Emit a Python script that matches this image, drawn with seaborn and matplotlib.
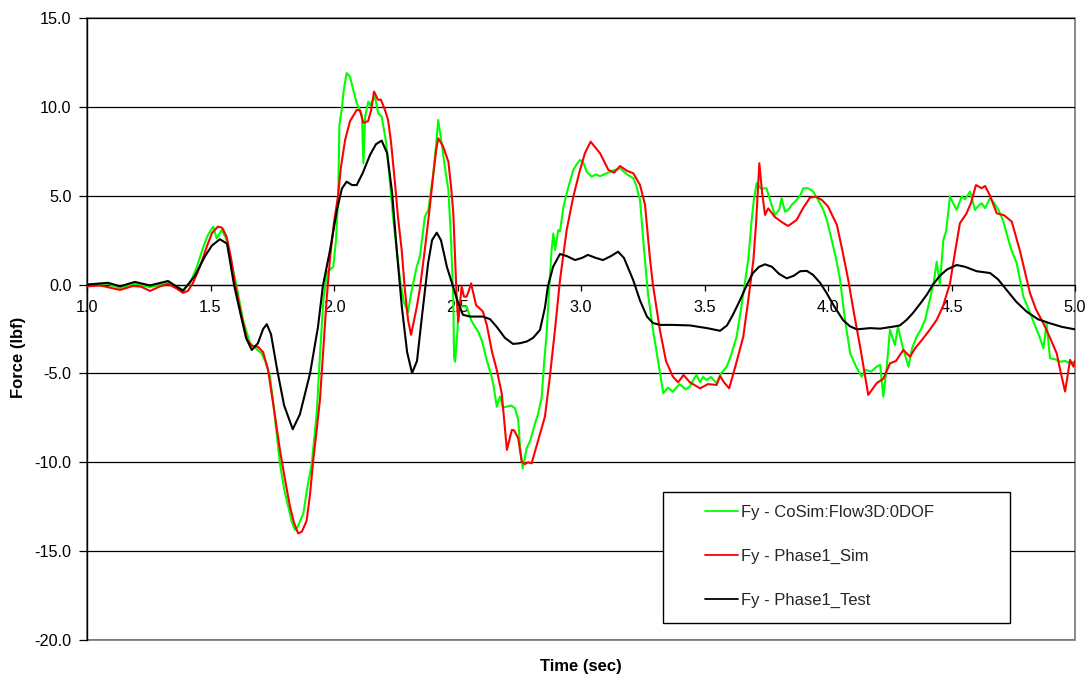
import numpy as np
import pandas as pd
import matplotlib
matplotlib.use("Agg")
import matplotlib.pyplot as plt
from matplotlib.patches import Rectangle
import seaborn as sns

# ---- Fy force histories (time in s, force in lbf) ----
series_names = ["Fy - CoSim:Flow3D:0DOF", "Fy - Phase1_Sim", "Fy - Phase1_Test"]
series_colors = ["#00FF00", "#FF0000", "#000000"]

cosim_t = [1.0, 1.085, 1.134, 1.194, 1.255, 1.328, 1.389, 1.417, 1.445, 1.471, 1.49, 1.511, 1.525,
           1.545, 1.563, 1.579, 1.606, 1.632, 1.66, 1.684, 1.707, 1.724, 1.741, 1.761, 1.781, 1.798,
           1.815, 1.83, 1.842, 1.854, 1.876, 1.891, 1.91, 1.93, 1.943, 1.957, 1.972, 1.997, 2.008,
           2.017, 2.022, 2.031, 2.04, 2.051, 2.065, 2.077, 2.092, 2.105, 2.113, 2.119, 2.126, 2.139,
           2.146, 2.166, 2.179, 2.193, 2.211, 2.227, 2.239, 2.254, 2.267, 2.283, 2.3, 2.312, 2.324,
           2.335, 2.348, 2.368, 2.382, 2.402, 2.413, 2.422, 2.436, 2.449, 2.463, 2.474, 2.483, 2.486,
           2.49, 2.498, 2.503, 2.51, 2.537, 2.555, 2.567, 2.584, 2.6, 2.618, 2.638, 2.647, 2.659,
           2.672, 2.684, 2.7, 2.717, 2.733, 2.746, 2.753, 2.764, 2.78, 2.794, 2.814, 2.826, 2.841,
           2.85, 2.861, 2.87, 2.881, 2.888, 2.895, 2.908, 2.915, 2.929, 2.947, 2.969, 2.984, 2.996,
           3.008, 3.023, 3.043, 3.061, 3.077, 3.104, 3.126, 3.158, 3.186, 3.212, 3.223, 3.239, 3.255,
           3.271, 3.291, 3.312, 3.333, 3.352, 3.372, 3.399, 3.425, 3.441, 3.457, 3.468, 3.482, 3.494,
           3.509, 3.526, 3.549, 3.567, 3.59, 3.607, 3.63, 3.652, 3.677, 3.691, 3.7, 3.711, 3.729,
           3.751, 3.769, 3.785, 3.802, 3.812, 3.826, 3.839, 3.854, 3.873, 3.887, 3.9, 3.92, 3.94,
           3.959, 3.981, 3.996, 4.015, 4.032, 4.049, 4.069, 4.09, 4.113, 4.136, 4.154, 4.174, 4.197,
           4.211, 4.224, 4.238, 4.251, 4.271, 4.283, 4.302, 4.326, 4.34, 4.359, 4.377, 4.393, 4.413,
           4.429, 4.44, 4.453, 4.467, 4.478, 4.494, 4.506, 4.521, 4.541, 4.555, 4.575, 4.595, 4.607,
           4.622, 4.636, 4.656, 4.672, 4.69, 4.709, 4.723, 4.741, 4.764, 4.777, 4.791, 4.818, 4.845,
           4.858, 4.872, 4.885, 4.891, 4.899, 4.919, 4.939, 4.96, 4.98, 5.0]
cosim_f = [0.0, 0.05, -0.2, 0.05, -0.15, 0.1, -0.3, 0.07, 1.0, 2.13, 2.8, 3.26, 2.6,
           3.07, 2.6, 1.57, -0.12, -2.0, -3.3, -3.6, -3.87, -4.4, -5.18, -7.5, -10.06, -11.5,
           -12.5, -13.4, -13.8, -13.6, -12.87, -11.5, -10.06, -7.24, -4.0, -0.87, 0.7, 1.0, 2.5,
           5.0, 9.0, 9.83, 11.0, 11.9, 11.7, 11.0, 10.2, 9.83, 9.5, 6.83, 9.45, 10.3,
           10.1, 10.57, 9.64, 9.45, 8.0, 5.7, 3.8, 1.95, 0.3, -1.0, -1.55, -0.5, 0.3,
           1.0, 1.6, 3.82, 4.2, 6.26, 7.8, 9.26, 7.95, 6.6, 5.32, 2.5, -0.87, -4.06,
           -4.34, -3.0, -1.8, -1.24, -1.24, -1.99, -2.3, -2.65, -3.2, -4.24, -5.18, -5.8, -6.87,
           -6.3, -6.9, -6.87, -6.8, -6.96, -7.62, -9.12, -10.34, -9.21, -8.8, -7.8, -7.3, -6.31,
           -4.5, -2.74, -0.5, 1.95, 2.88, 1.95, 3.07, 3.0, 4.38, 5.4, 6.45, 6.8, 7.01,
           6.9, 6.36, 6.07, 6.2, 6.1, 6.26, 6.4, 6.54, 6.2, 5.98, 5.6, 4.76, 2.0,
           -0.5, -2.5, -4.3, -6.12, -5.8, -6.03, -5.6, -5.9, -5.74, -5.3, -5.09, -5.5, -5.2,
           -5.37, -5.2, -5.55, -5.0, -4.62, -4.0, -2.93, -1.0, 1.38, 3.64, 4.8, 5.7, 5.4,
           5.42, 4.6, 3.92, 4.2, 4.86, 4.1, 4.2, 4.5, 4.76, 5.0, 5.42, 5.42, 5.23,
           4.8, 4.2, 3.6, 2.51, 1.5, 0.26, -2.0, -3.87, -4.6, -5.18, -4.8, -4.9, -4.62,
           -4.52, -6.31, -4.62, -2.55, -3.4, -2.37, -3.5, -4.62, -3.6, -2.93, -2.5, -1.99, -0.8,
           0.2, 1.29, 0.0, 2.51, 3.0, 4.95, 4.6, 4.2, 4.95, 4.8, 5.23, 4.2, 4.4,
           4.58, 4.3, 4.86, 4.6, 4.2, 3.6, 2.88, 2.0, 1.2, 0.3, -0.68, -1.6, -2.55,
           -3.0, -3.59, -2.18, -3.0, -4.15, -4.2, -4.34, -4.3, -4.43, -4.34]

sim_t = [1.0, 1.053, 1.085, 1.134, 1.186, 1.219, 1.255, 1.296, 1.328, 1.36, 1.389, 1.409, 1.429,
         1.457, 1.485, 1.506, 1.53, 1.547, 1.565, 1.583, 1.599, 1.623, 1.648, 1.668, 1.692, 1.713,
         1.733, 1.757, 1.781, 1.802, 1.822, 1.838, 1.855, 1.87, 1.889, 1.903, 1.915, 1.929, 1.943,
         1.957, 1.97, 1.984, 2.0, 2.016, 2.028, 2.045, 2.065, 2.092, 2.105, 2.119, 2.138, 2.15,
         2.162, 2.178, 2.19, 2.206, 2.219, 2.231, 2.247, 2.259, 2.274, 2.287, 2.3, 2.312, 2.324,
         2.336, 2.348, 2.368, 2.385, 2.401, 2.413, 2.422, 2.441, 2.463, 2.474, 2.483, 2.49, 2.497,
         2.503, 2.517, 2.526, 2.537, 2.547, 2.555, 2.575, 2.603, 2.619, 2.64, 2.659, 2.679, 2.7,
         2.72, 2.729, 2.746, 2.76, 2.773, 2.785, 2.8, 2.826, 2.854, 2.874, 2.895, 2.915, 2.942,
         2.968, 2.996, 3.016, 3.039, 3.077, 3.111, 3.134, 3.158, 3.186, 3.212, 3.239, 3.259, 3.279,
         3.291, 3.32, 3.344, 3.372, 3.393, 3.415, 3.441, 3.482, 3.514, 3.549, 3.563, 3.579, 3.6,
         3.627, 3.657, 3.676, 3.698, 3.709, 3.722, 3.733, 3.745, 3.758, 3.785, 3.82, 3.839, 3.873,
         3.899, 3.927, 3.951, 3.975, 4.0, 4.036, 4.057, 4.082, 4.105, 4.13, 4.146, 4.163, 4.197,
         4.224, 4.251, 4.275, 4.305, 4.332, 4.352, 4.38, 4.409, 4.44, 4.466, 4.494, 4.514, 4.534,
         4.561, 4.579, 4.599, 4.622, 4.636, 4.656, 4.683, 4.713, 4.744, 4.777, 4.818, 4.842, 4.872,
         4.899, 4.926, 4.943, 4.96, 4.98, 4.994, 5.0]
sim_f = [-0.1, -0.05, -0.15, -0.3, -0.08, -0.12, -0.36, -0.1, 0.03, -0.2, -0.47, -0.35, 0.09,
         1.0, 2.13, 2.9, 3.26, 3.2, 2.7, 1.5, 0.09, -1.6, -3.1, -3.45, -3.5, -3.8,
         -4.8, -7.0, -9.3, -11.0, -12.5, -13.4, -14.0, -13.9, -13.3, -11.8, -10.0, -8.3, -6.5,
         -3.6, -0.87, 1.5, 3.5, 4.95, 6.6, 8.14, 9.2, 9.83, 9.8, 9.1, 9.2, 9.8,
         10.86, 10.4, 10.4, 9.83, 9.26, 8.0, 5.7, 3.8, 1.95, -0.3, -2.0, -2.83, -2.0,
         -1.2, -0.2, 2.0, 4.0, 6.07, 7.5, 8.23, 7.8, 6.92, 5.5, 4.03, 1.5, -0.87,
         -2.09, -0.1, -0.68, -0.68, -0.3, 0.07, -1.15, -1.52, -2.3, -3.8, -4.8, -6.12, -9.3,
         -8.18, -8.2, -8.65, -9.97, -10.1, -10.0, -10.06, -8.8, -7.43, -5.18, -2.5, 0.26, 3.07,
         4.9, 6.45, 7.4, 8.04, 7.39, 6.45, 6.3, 6.67, 6.4, 6.26, 5.6, 4.5, 1.5,
         0.0, -2.6, -4.3, -5.18, -5.5, -5.09, -5.5, -5.84, -5.6, -5.65, -5.14, -5.5, -5.84,
         -4.5, -2.93, -1.0, 1.38, 3.5, 6.83, 5.2, 3.92, 4.29, 3.8, 3.45, 3.3, 3.64,
         4.3, 4.89, 4.95, 4.76, 4.4, 3.35, 2.0, 0.26, -1.6, -3.49, -4.8, -6.21, -5.55,
         -5.3, -4.43, -4.3, -3.68, -4.06, -3.6, -3.12, -2.6, -1.99, -1.2, 0.07, 1.8, 3.45,
         4.01, 4.6, 5.6, 5.42, 5.55, 5.0, 4.01, 3.9, 3.54, 1.9, -0.49, -1.4, -2.18,
         -3.0, -3.87, -5.0, -6.02, -4.24, -4.62, -4.28]

test_t = [1.0, 1.085, 1.134, 1.194, 1.255, 1.328, 1.389, 1.437, 1.478, 1.506, 1.538, 1.567, 1.595,
          1.619, 1.644, 1.667, 1.692, 1.713, 1.728, 1.745, 1.77, 1.798, 1.833, 1.862, 1.903, 1.935,
          1.955, 1.984, 2.012, 2.032, 2.051, 2.073, 2.092, 2.117, 2.146, 2.17, 2.193, 2.215, 2.235,
          2.254, 2.275, 2.296, 2.316, 2.336, 2.356, 2.381, 2.397, 2.416, 2.433, 2.457, 2.482, 2.502,
          2.522, 2.551, 2.603, 2.632, 2.66, 2.692, 2.725, 2.753, 2.781, 2.806, 2.834, 2.854, 2.866,
          2.887, 2.915, 2.943, 2.976, 3.004, 3.028, 3.06, 3.089, 3.121, 3.15, 3.174, 3.211, 3.239,
          3.267, 3.291, 3.32, 3.372, 3.441, 3.51, 3.563, 3.591, 3.615, 3.644, 3.672, 3.696, 3.721,
          3.745, 3.773, 3.802, 3.833, 3.862, 3.887, 3.914, 3.939, 3.968, 3.995, 4.024, 4.061, 4.089,
          4.117, 4.17, 4.211, 4.263, 4.291, 4.318, 4.344, 4.372, 4.401, 4.425, 4.453, 4.482, 4.521,
          4.555, 4.602, 4.656, 4.688, 4.723, 4.761, 4.804, 4.85, 4.899, 4.947, 5.0]
test_f = [0.0, 0.1, -0.1, 0.15, -0.05, 0.2, -0.35, 0.5, 1.6, 2.2, 2.55, 2.3, 0.0,
          -1.5, -3.0, -3.68, -3.3, -2.5, -2.23, -2.8, -4.8, -6.8, -8.14, -7.3, -5.0, -2.4,
          -0.08, 1.94, 4.2, 5.4, 5.79, 5.6, 5.6, 6.3, 7.3, 7.9, 8.1, 7.4, 5.2,
          1.95, -1.3, -3.8, -4.98, -4.3, -1.8, 1.2, 2.5, 2.92, 2.5, 1.0, -0.1, -1.0,
          -1.7, -1.8, -1.8, -1.95, -2.4, -3.0, -3.34, -3.3, -3.2, -3.0, -2.55, -1.3, -0.1,
          1.0, 1.72, 1.6, 1.38, 1.5, 1.67, 1.5, 1.38, 1.6, 1.85, 1.5, 0.26, -0.9,
          -1.8, -2.16, -2.27, -2.27, -2.3, -2.45, -2.6, -2.3, -1.7, -0.87, 0.0, 0.65, 1.0,
          1.14, 1.0, 0.6, 0.35, 0.5, 0.75, 0.77, 0.55, 0.1, -0.49, -1.2, -2.0, -2.35,
          -2.52, -2.45, -2.48, -2.37, -2.3, -1.99, -1.6, -1.1, -0.55, 0.0, 0.5, 0.85, 1.1,
          1.0, 0.75, 0.65, 0.3, -0.3, -0.95, -1.52, -1.95, -2.18, -2.38, -2.52]

y_ticks = [15.0, 10.0, 5.0, 0.0, -5.0, -10.0, -15.0, -20.0]
x_ticks = [1.0, 1.5, 2.0, 2.5, 3.0, 3.5, 4.0, 4.5, 5.0]

df = pd.concat([
    pd.DataFrame({"Time": cosim_t, "Force": cosim_f, "Series": series_names[0]}),
    pd.DataFrame({"Time": sim_t, "Force": sim_f, "Series": series_names[1]}),
    pd.DataFrame({"Time": test_t, "Force": test_f, "Series": series_names[2]}),
], ignore_index=True)

sns.set_theme(style="white")
plt.rcParams["font.family"] = ["Liberation Sans", "DejaVu Sans"]

fig = plt.figure(figsize=(10.91, 6.82), dpi=100)
ax = fig.add_axes([87 / 1091, 1 - 640 / 682, 988 / 1091, 622 / 682])

sns.lineplot(data=df, x="Time", y="Force", hue="Series", hue_order=series_names,
             palette=dict(zip(series_names, series_colors)), estimator=None, sort=False,
             linewidth=1.5, ax=ax, legend=True, zorder=3)

ax.set_xlim(1.0, 5.0)
ax.set_ylim(-20.0, 15.0)
ax.set_xticks(x_ticks)
ax.set_xticklabels([f"{v:.1f}" for v in x_ticks])
ax.set_yticks(y_ticks)
ax.set_yticklabels([f"{v:.1f}" for v in y_ticks])

# horizontal gridlines
ax.grid(False)
for v in y_ticks:
    ax.axhline(v, color="black", lw=0.9, zorder=1)

# x axis crosses at zero; plot area framed in grey
for side in ["top", "right"]:
    ax.spines[side].set_visible(False)
ax.spines["bottom"].set_position(("data", 0))
ax.spines["bottom"].set_color("black")
ax.spines["bottom"].set_linewidth(0.9)
ax.spines["left"].set_color("black")
ax.spines["left"].set_linewidth(1.0)
ax.add_patch(Rectangle((0, 0), 1, 1, transform=ax.transAxes, fill=False,
                       edgecolor="#808080", lw=1.3, zorder=0.5, clip_on=False))

ax.tick_params(axis="x", direction="out", length=4, width=0.9, color="black",
               pad=7, labelsize=11.7, labelcolor="black", bottom=True)
ax.tick_params(axis="y", direction="out", length=6, width=0.9, color="black",
               pad=5, labelsize=11.7, labelcolor="black", left=True)

ax.set_xlabel("Time (sec)", fontsize=12, fontweight="bold", color="black")
ax.set_ylabel("Force (lbf)", fontsize=12, fontweight="bold", color="black")
ax.xaxis.set_label_coords(0.5, -0.03)
ax.yaxis.set_label_coords(-0.062, 0.455)

# legend box
handles, labels = ax.get_legend_handles_labels()
if ax.legend_ is not None:
    ax.legend_.remove()
box_x0, box_y0 = (663 - 87) / 988, (640 - 623) / 622
box_w, box_h = (1010 - 663) / 988, (623 - 492) / 622
ax.add_patch(Rectangle((box_x0, box_y0), box_w, box_h, transform=ax.transAxes,
                       facecolor="white", edgecolor="black", lw=1.0, zorder=4))
leg = ax.legend(handles, labels, loc="upper left",
                bbox_to_anchor=((705 - 87) / 988, (640 - 505) / 622),
                frameon=False, fontsize=12, handlelength=1.95, handletextpad=0.2,
                labelspacing=1.72, borderpad=0.0, borderaxespad=0.0)
leg.set_zorder(5)
for line in leg.get_lines():
    line.set_linewidth(1.3)

fig.savefig("out.png", dpi=100, facecolor="white")
